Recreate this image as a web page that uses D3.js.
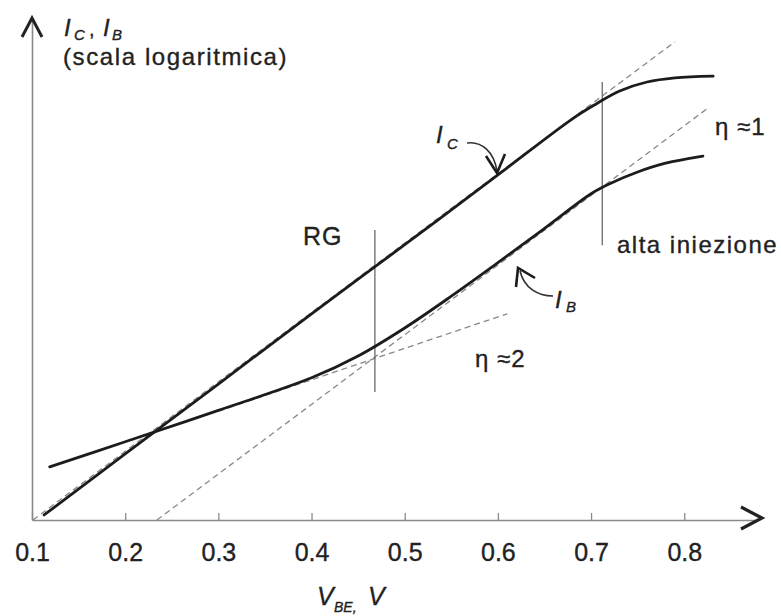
<!DOCTYPE html>
<html>
<head>
<meta charset="utf-8">
<script src="https://cdn.jsdelivr.net/npm/d3@7"></script>
<style>
  html, body { margin: 0; padding: 0; background: #fff; }
  svg { display: block; }
  text { font-family: "Liberation Sans", Arial, Helvetica, sans-serif; fill: #222; stroke: #222; stroke-width: 0.35; }
</style>
</head>
<body>
<svg id="chart" width="781" height="616"></svg>
<script>
// ---- data (VBE in volts, currents as log10 of A on a log axis) ----
const xTicks = [0.1, 0.2, 0.3, 0.4, 0.5, 0.6, 0.7, 0.8];
const xTickLabels = ["0.1", "0.2", "0.3", "0.4", "0.5", "0.6", "0.7", "0.8"];

const vbeIC = [0.113, 0.2, 0.3, 0.4, 0.5, 0.6, 0.68, 0.705, 0.73, 0.76, 0.79, 0.831];
const icLog = [-13.88, -12.42, -10.75, -9.07, -7.42, -5.75, -4.41, -4.06, -3.75, -3.53, -3.43, -3.39];

const vbeIB = [0.119, 0.2, 0.3, 0.4, 0.45, 0.5, 0.55, 0.6, 0.65, 0.7, 0.72, 0.75, 0.78, 0.82];
const ibLog = [-12.73, -12.13, -11.38, -10.6, -10.08, -9.41, -8.65, -7.85, -7.03, -6.20, -5.96, -5.68, -5.47, -5.30];

// ideal-slope dashed reference lines (two end points each)
const dashICv = [0.101, 0.79],  dashIClog = [-14.0, -2.57];    // eta ~ 1 (IC)
const dashIBv = [0.234, 0.825], dashIBlog = [-14.0, -4.16];    // eta ~ 1 (IB)
const dashEta2v = [0.30, 0.61], dashEta2log = [-11.40, -9.07]; // eta ~ 2 (IB)

// region boundary markers
const markerV = [0.468, 0.712];
const markerLogTop = [-7.07, -3.53];
const markerLogBottom = [-10.94, -7.43];

// ---- scales ----
const svg = d3.select("#chart");
const x = d3.scaleLinear().domain([0.1, 0.877]).range([32, 756]);
const y = d3.scaleLog().domain([1e-14, 1e-2]).range([520, 18]);
const yv = l => y(Math.pow(10, l));

const line = d3.line().x(d => x(d[0])).y(d => yv(d[1]));

// ---- axes ----
const xAxis = d3.axisBottom(x).tickValues(xTicks)
  .tickFormat((d, i) => xTickLabels[i]).tickSize(-7).tickSizeOuter(0).tickPadding(23);
const gx = svg.append("g").attr("transform", "translate(0,520)").call(xAxis);
gx.select(".domain").attr("stroke", "#8a8a8a").attr("stroke-width", 1.6);
gx.selectAll(".tick line").attr("stroke", "#8a8a8a").attr("stroke-width", 1.3);
gx.selectAll(".tick text").attr("font-size", 25).attr("fill", "#262626")
  .attr("font-family", "'Liberation Sans', Arial, sans-serif");

const yAxis = d3.axisLeft(y).tickValues([]).tickSizeOuter(0);
const gy = svg.append("g").attr("transform", "translate(32,0)").call(yAxis);
gy.select(".domain").attr("stroke", "#8a8a8a").attr("stroke-width", 1.6);

// arrowheads
svg.append("path").attr("d", "M741,507 L762,518 L741,529")
  .attr("fill", "none").attr("stroke", "#222").attr("stroke-width", 3.2)
  .attr("stroke-linejoin", "miter");
svg.append("path").attr("d", "M22,37 L32,18 L42,37")
  .attr("fill", "none").attr("stroke", "#222").attr("stroke-width", 3)
  .attr("stroke-linejoin", "miter");

// ---- dashed reference lines ----
const dashes = [
  d3.zip(dashICv, dashIClog),
  d3.zip(dashIBv, dashIBlog),
  d3.zip(dashEta2v, dashEta2log)
];
svg.append("g").selectAll("path").data(dashes).join("path")
  .attr("d", line).attr("fill", "none")
  .attr("stroke", "#888").attr("stroke-width", 1.3)
  .attr("stroke-dasharray", "6,4");

// ---- marker lines ----
svg.append("g").selectAll("line").data(markerV).join("line")
  .attr("x1", d => x(d)).attr("x2", d => x(d))
  .attr("y1", (d, i) => yv(markerLogTop[i]))
  .attr("y2", (d, i) => yv(markerLogBottom[i]))
  .attr("stroke", "#6a6a6a").attr("stroke-width", 1.3);

// ---- curves ----
const curve = d3.line().x(d => x(d[0])).y(d => yv(d[1])).curve(d3.curveCatmullRom.alpha(0.5));
svg.append("path").datum(d3.zip(vbeIC, icLog)).attr("d", curve)
  .attr("fill", "none").attr("stroke", "#1c1c1c").attr("stroke-width", 2.8)
  .attr("stroke-linecap", "round");
svg.append("path").datum(d3.zip(vbeIB, ibLog)).attr("d", curve)
  .attr("fill", "none").attr("stroke", "#1c1c1c").attr("stroke-width", 2.8)
  .attr("stroke-linecap", "round");

// ---- annotation arrows ----
svg.append("path").attr("d", "M467,143 C482,141 494,152 497,171")
  .attr("fill", "none").attr("stroke", "#333").attr("stroke-width", 1.6);
svg.append("path").attr("d", "M486,156 L497,173 L505,154")
  .attr("fill", "none").attr("stroke", "#1c1c1c").attr("stroke-width", 2.6);
svg.append("path").attr("d", "M553,296 C538,296 524,288 520,271")
  .attr("fill", "none").attr("stroke", "#333").attr("stroke-width", 1.6);
svg.append("path").attr("d", "M516,287 L518,268 L535,278")
  .attr("fill", "none").attr("stroke", "#1c1c1c").attr("stroke-width", 2.6);

// ---- texts ----
function t(txt, px, py, size, opts = {}) {
  const el = svg.append("text").attr("x", px).attr("y", py)
    .attr("font-size", size).text(txt);
  if (opts.italic) el.attr("font-style", "italic");
  if (opts.ls) el.attr("letter-spacing", opts.ls);
  return el;
}
// y-axis title
t("I", 64, 36, 24, { italic: true });
t("C", 74, 40, 15, { italic: true });
t(",", 89, 36, 20);
t("I", 103, 36, 24, { italic: true });
t("B", 112, 40, 15, { italic: true });
t("(scala logaritmica)", 63, 65, 24, { ls: 1.6 });

// x-axis title
t("V", 317, 605, 25, { italic: true });
t("BE,", 334, 612, 14, { italic: true });
t("V", 368, 605, 25, { italic: true });

// curve labels
t("I", 436, 143, 24, { italic: true });
t("C", 447, 149, 15, { italic: true });
t("I", 555, 308, 24, { italic: true });
t("B", 566, 312, 15, { italic: true });

// region labels
t("RG", 303, 245, 25, { ls: 1 });
t("alta iniezione", 617, 253, 24, { ls: 1.5 });
t("η ≈1", 715, 135, 24, { ls: 1 });
t("η ≈2", 475, 367, 24, { ls: 1 });
</script>
</body>
</html>
